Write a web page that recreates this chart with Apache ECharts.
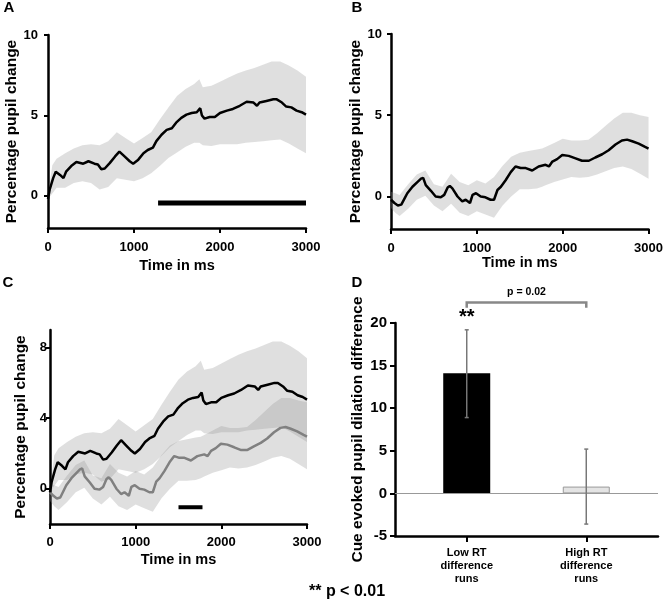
<!DOCTYPE html>
<html>
<head>
<meta charset="utf-8">
<script src="https://cdn.jsdelivr.net/npm/echarts@6/dist/echarts.min.js"></script>
<style>
html, body { margin: 0; padding: 0; background: #fff; }
#chart { width: 666px; height: 603px; }
</style>
</head>
<body>
<div id="chart"></div>
<script>
// time grid used for the confidence bands (ms)
var tBand = [0, 50, 100, 200, 300, 400, 500, 600, 700, 800, 900, 1000, 1100, 1200, 1300, 1400, 1500, 1600, 1700, 1760,
	1800, 1900, 2000, 2100, 2200, 2300, 2400, 2500, 2600, 2700, 2800, 2900, 3000];

// low RT difference runs (panel A, black in C)
var upperA = [0, 1.9, 2.3, 2.65, 2.95, 3.15, 3.2, 3.15, 3.4, 3.95, 3.6, 3.25, 3.6, 3.95, 4.75, 5.5, 6.2, 6.65, 6.95, 7.25,
	6.75, 6.85, 7.1, 7.35, 7.6, 7.8, 7.95, 8.15, 8.35, 8.35, 8.1, 7.8, 7.4];
var lowerA = [-0.2, 0.15, 0.5, 0.5, 0.8, 0.9, 0.8, 0.4, 0.55, 1.1, 1.0, 0.9, 1.1, 1.4, 1.85, 2.35, 2.7, 3.05, 3.3, 3.3,
	3.15, 3.1, 3.2, 3.2, 3.2, 3.3, 3.35, 3.4, 3.45, 3.5, 3.25, 2.95, 2.65];
var timeA = [0, 20, 60, 90, 140, 180, 210, 270, 330, 410, 470, 540, 580, 620, 660, 720, 780, 830, 890, 950,
	990, 1050, 1110, 1160, 1220, 1260, 1320, 1380, 1440, 1490, 1550, 1610, 1670, 1730, 1770, 1790, 1820, 1880, 1940, 2000,
	2080, 2150, 2230, 2310, 2390, 2430, 2460, 2540, 2620, 2660, 2720, 2770, 2830, 2890, 2950, 3000];
var meanA = [-0.2, 0.4, 1.1, 1.5, 1.3, 1.1, 1.5, 1.85, 2.1, 2.0, 2.15, 2.0, 1.95, 1.65, 1.7, 2.05, 2.45, 2.75, 2.45, 2.15,
	2.0, 2.25, 2.65, 2.85, 3.0, 3.4, 3.8, 4.1, 4.2, 4.55, 4.85, 5.05, 5.15, 5.2, 5.45, 5.0, 4.8, 4.9, 4.9, 5.15,
	5.3, 5.4, 5.6, 5.85, 5.8, 5.6, 5.8, 5.9, 6.0, 6.0, 5.8, 5.55, 5.5, 5.3, 5.2, 5.05];

// high RT difference runs (panel B, grey in C)
var upperB = [0.3, 0.2, 0.1, 0.75, 1.35, 1.6, 0.75, 0.6, 1.4, 0.9, 0.7, 1.0, 0.8, 1.2, 1.9, 2.45, 2.7, 2.8, 2.9, 2.95,
	3.05, 3.3, 3.55, 3.45, 3.45, 3.5, 3.9, 4.35, 4.8, 5.15, 5.15, 5.0, 4.9];
var lowerB = [-0.7, -1.0, -1.2, -0.75, -0.2, 0.05, -0.55, -0.9, -0.45, -1.0, -1.2, -0.9, -1.1, -1.3, -0.55, 0.0, 0.45, 0.45, 0.5, 0.6,
	0.7, 0.9, 1.05, 1.2, 1.15, 1.2, 1.35, 1.55, 1.75, 1.85, 1.7, 1.4, 1.1];
var timeB = [0, 40, 80, 120, 160, 190, 250, 310, 350, 375, 405, 465, 520, 580, 620, 660, 685, 715, 775, 830,
	870, 920, 950, 990, 1045, 1100, 1160, 1200, 1240, 1280, 1335, 1395, 1450, 1510, 1570, 1645, 1720, 1800, 1840, 1880,
	1935, 1995, 2070, 2150, 2225, 2305, 2380, 2460, 2535, 2615, 2690, 2750, 2810, 2885, 2960, 3000];
var meanB = [-0.2, -0.4, -0.55, -0.5, -0.1, 0.2, 0.6, 0.9, 1.1, 1.15, 0.7, 0.35, 0.0, -0.05, 0.1, 0.55, 0.65, 0.5, 0.0, -0.3,
	-0.2, -0.4, 0.1, 0.2, 0.0, -0.05, -0.2, -0.2, 0.4, 0.6, 1.0, 1.5, 1.85, 1.75, 1.75, 1.6, 1.85, 1.95, 1.85, 2.15,
	2.3, 2.55, 2.5, 2.35, 2.2, 2.2, 2.4, 2.6, 2.85, 3.2, 3.45, 3.5, 3.4, 3.25, 3.05, 2.95];

// significance bars (start, end ms) and their level
var sigA = [1280, 3000], sigAy = -0.45;
var sigC = [1500, 1780], sigCy = -1.05;

// panel D
var groups = ['Low RT\ndifference\nruns', 'High RT\ndifference\nruns'];
var groupPos = [0, 1];
var barValues = [14.1, 0.8];
var errLow = [8.9, -3.6];
var errHigh = [19.2, 5.2];
var pText = 'p = 0.02', starText = '**';
var bracketY = 22.4, bracketEndY = 21.8, pTextY = 23.6, starY = 20.6;

var FONT = '"Liberation Sans", Arial, sans-serif';
var BAND = 'rgba(150,150,150,0.3)';

var chart = echarts.init(document.getElementById('chart'));

function pairs(xs, ys) {
	return xs.map(function(x, i){ return [x, ys[i]]; });
}

function plain(v) { return String(v); }

function timeAxis(gi, labelMargin, nameGap) {
	return {
		type: 'value', gridIndex: gi, min: 0, max: 3000, interval: 1000,
		name: 'Time in ms', nameLocation: 'middle', nameGap: nameGap,
		nameTextStyle: {fontFamily: FONT, fontWeight: 'bold', fontSize: 14.5, color: '#000'},
		axisLine: {show: true, onZero: false, lineStyle: {color: '#000', width: 2.5}},
		axisTick: {show: true, length: 5, lineStyle: {color: '#000', width: 2}},
		axisLabel: {fontFamily: FONT, fontWeight: 'bold', fontSize: 13, color: '#000', margin: labelMargin, formatter: plain},
		splitLine: {show: false}
	};
}

function pctAxis(gi, min, max, ticks, labelMargin, nameGap) {
	return {
		type: 'value', gridIndex: gi, min: min, max: max,
		name: 'Percentage pupil change', nameLocation: 'middle', nameGap: nameGap,
		nameTextStyle: {fontFamily: FONT, fontWeight: 'bold', fontSize: 15.5, color: '#000'},
		axisLine: {show: true, onZero: false, lineStyle: {color: '#000', width: 2.5}},
		axisTick: {show: true, length: 4, customValues: ticks, lineStyle: {color: '#000', width: 2}},
		axisLabel: {customValues: ticks, fontFamily: FONT, fontWeight: 'bold', fontSize: 13, color: '#000', margin: labelMargin},
		splitLine: {show: false}
	};
}

function bandSeries(ax, lo, hi) {
	return {
		type: 'custom', xAxisIndex: ax, yAxisIndex: ax, silent: true,
		data: tBand.map(function(t, i){ return [t, lo[i], hi[i]]; }),
		encode: {x: 0, y: [1, 2]},
		renderItem: function(params, api){
			if (params.dataIndex !== 0) return;
			var pts = [];
			for (var i = 0; i < tBand.length; i++) pts.push(api.coord([tBand[i], hi[i]]));
			for (var j = tBand.length - 1; j >= 0; j--) pts.push(api.coord([tBand[j], lo[j]]));
			return {type: 'polygon', shape: {points: pts}, style: {fill: BAND}};
		}
	};
}

function meanLine(ax, xs, ys, color) {
	return {
		type: 'line', xAxisIndex: ax, yAxisIndex: ax, silent: true,
		data: pairs(xs, ys), symbol: 'none',
		lineStyle: {color: color, width: 2.5}
	};
}

function sigLine(ax, range, level, width) {
	return {
		type: 'line', xAxisIndex: ax, yAxisIndex: ax, silent: true,
		data: range.map(function(t){ return [t, level]; }), symbol: 'none',
		lineStyle: {color: '#000', width: width, cap: 'butt'}
	};
}

var barStyles = [
	{color: '#000'},
	{color: '#e4e4e4', borderColor: '#9a9a9a', borderWidth: 1}
];

option = {
	animation: false,
	textStyle: {fontFamily: FONT},
	grid: [
		{left: 48, top: 35, width: 258, height: 193},
		{left: 391, top: 34, width: 259, height: 195},
		{left: 50, top: 330, width: 257, height: 194},
		{left: 395, top: 323, width: 263, height: 213}
	],
	xAxis: [
		timeAxis(0, 13, 30),
		timeAxis(1, 13, 26),
		timeAxis(2, 12, 28),
		{
			type: 'value', gridIndex: 3, min: -0.6, max: 1.6,
			axisLine: {show: true, onZero: false, lineStyle: {color: '#000', width: 2.5}},
			axisTick: {show: true, length: 6, customValues: groupPos, lineStyle: {color: '#000', width: 2}},
			axisLabel: {
				customValues: groupPos, fontFamily: FONT, fontWeight: 'bold', fontSize: 11, lineHeight: 13,
				color: '#000', margin: 10,
				formatter: function(v){ return groups[Math.round(v)]; }
			},
			splitLine: {show: false}
		}
	],
	yAxis: [
		pctAxis(0, -2, 10, [0, 5, 10], 10, 26),
		pctAxis(1, -2, 10, [0, 5, 10], 9, 26),
		pctAxis(2, -2, 9, [0, 4, 8], 3, 21),
		{
			type: 'value', gridIndex: 3, min: -5, max: 20, interval: 5,
			name: 'Cue evoked pupil dilation difference', nameLocation: 'middle', nameGap: 29,
			nameTextStyle: {fontFamily: FONT, fontWeight: 'bold', fontSize: 15.5, color: '#000'},
			axisLine: {show: true, onZero: false, lineStyle: {color: '#000', width: 2.5}},
			axisTick: {show: true, length: 5, lineStyle: {color: '#000', width: 2}},
			axisLabel: {fontFamily: FONT, fontWeight: 'bold', fontSize: 15, color: '#000', margin: 8},
			splitLine: {show: false}
		}
	],
	series: [
		// A
		bandSeries(0, lowerA, upperA),
		meanLine(0, timeA, meanA, '#000'),
		sigLine(0, sigA, sigAy, 5),
		// B
		bandSeries(1, lowerB, upperB),
		meanLine(1, timeB, meanB, '#000'),
		// C
		bandSeries(2, lowerA, upperA),
		bandSeries(2, lowerB, upperB),
		meanLine(2, timeB, meanB, '#808080'),
		meanLine(2, timeA, meanA, '#000'),
		sigLine(2, sigC, sigCy, 4),
		// D
		{
			type: 'bar', xAxisIndex: 3, yAxisIndex: 3, barWidth: 47, silent: true,
			data: barValues.map(function(v, i){ return {value: [groupPos[i], v], itemStyle: barStyles[i]}; }),
			markLine: {
				silent: true, symbol: 'none', label: {show: false},
				lineStyle: {color: '#999', width: 1, type: 'solid'},
				data: [{yAxis: 0}]
			}
		},
		{
			type: 'custom', xAxisIndex: 3, yAxisIndex: 3, silent: true, z: 5,
			data: groupPos.map(function(x, i){ return [x, errLow[i], errHigh[i]]; }),
			encode: {x: 0, y: [1, 2]},
			renderItem: function(params, api){
				var lo = api.coord([api.value(0), api.value(1)]);
				var hi = api.coord([api.value(0), api.value(2)]);
				var st = {stroke: '#777', lineWidth: 1.5};
				return {type: 'group', children: [
					{type: 'line', shape: {x1: lo[0], y1: lo[1], x2: hi[0], y2: hi[1]}, style: st},
					{type: 'line', shape: {x1: hi[0] - 2, y1: hi[1], x2: hi[0] + 2, y2: hi[1]}, style: st},
					{type: 'line', shape: {x1: lo[0] - 2, y1: lo[1], x2: lo[0] + 2, y2: lo[1]}, style: st}
				]};
			}
		},
		{
			type: 'custom', xAxisIndex: 3, yAxisIndex: 3, silent: true, clip: false, z: 5,
			data: [[groupPos[0], groupPos[1], bracketY, bracketEndY]],
			encode: {x: [0, 1], y: [2, 3]},
			renderItem: function(params, api){
				var x0 = api.value(0), x1 = api.value(1);
				var a = api.coord([x0, api.value(3)]);
				var b = api.coord([x0, api.value(2)]);
				var c = api.coord([x1, api.value(2)]);
				var d = api.coord([x1, api.value(3)]);
				var pt = api.coord([(x0 + x1) / 2, pTextY]);
				var sp = api.coord([x0, starY]);
				return {type: 'group', children: [
					{type: 'polyline', shape: {points: [a, b, c, d]}, style: {stroke: '#888', lineWidth: 2.5, fill: null}},
					{type: 'text', x: pt[0], y: pt[1], style: {text: pText, font: 'bold 10.5px ' + FONT, fill: '#000', align: 'center', verticalAlign: 'middle'}},
					{type: 'text', x: sp[0], y: sp[1], style: {text: starText, font: 'bold 20px ' + FONT, fill: '#000', align: 'center', verticalAlign: 'middle'}}
				]};
			}
		}
	],
	graphic: [
		{type: 'text', x: 9, y: 8, style: {text: 'A', font: 'bold 15px ' + FONT, fill: '#000', align: 'center', verticalAlign: 'middle'}},
		{type: 'text', x: 357, y: 8, style: {text: 'B', font: 'bold 15px ' + FONT, fill: '#000', align: 'center', verticalAlign: 'middle'}},
		{type: 'text', x: 8, y: 283, style: {text: 'C', font: 'bold 15px ' + FONT, fill: '#000', align: 'center', verticalAlign: 'middle'}},
		{type: 'text', x: 357, y: 283, style: {text: 'D', font: 'bold 15px ' + FONT, fill: '#000', align: 'center', verticalAlign: 'middle'}},
		{type: 'text', x: 347, y: 592, style: {text: '** p < 0.01', font: 'bold 16px ' + FONT, fill: '#000', align: 'center', verticalAlign: 'middle'}}
	]
};

chart.setOption(option);
</script>
</body>
</html>
